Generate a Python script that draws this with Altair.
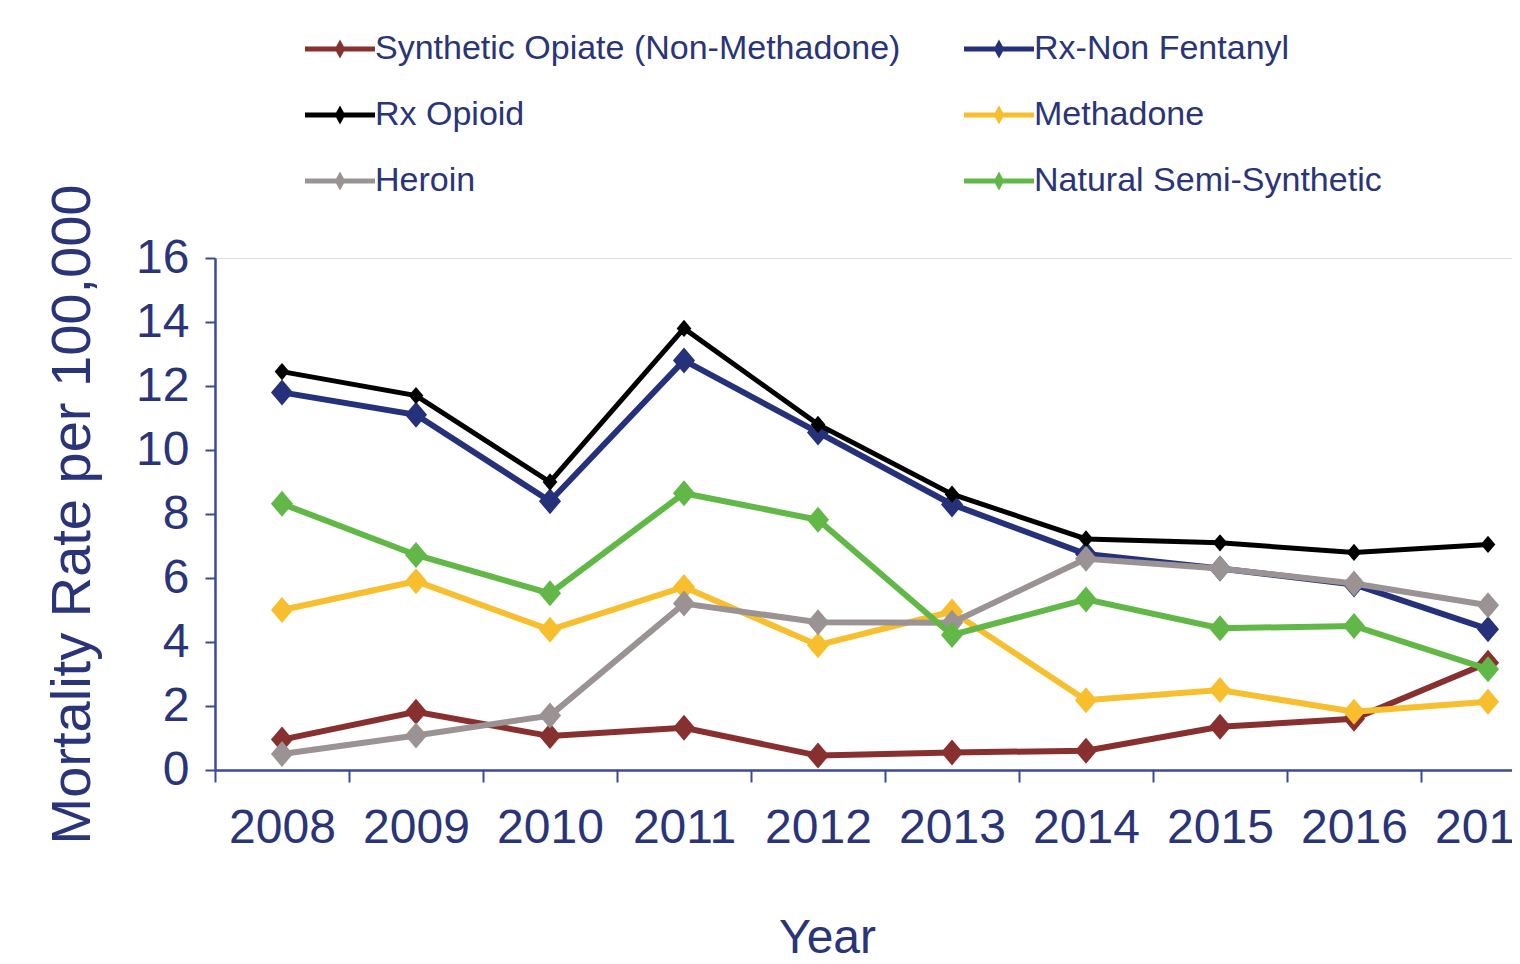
import altair as alt
import pandas as pd

years = [2008, 2009, 2010, 2011, 2012, 2013, 2014, 2015, 2016, 2017]
series = [
    "Synthetic Opiate (Non-Methadone)",
    "Rx-Non Fentanyl",
    "Rx Opioid",
    "Methadone",
    "Heroin",
    "Natural Semi-Synthetic",
]
colors = ["#87302F", "#25317A", "#000000", "#F7BE2E", "#9B9293", "#62B846"]

synthetic = [0.95, 1.82, 1.06, 1.32, 0.45, 0.55, 0.6, 1.35, 1.6, 3.35]
rx_non_fentanyl = [11.8, 11.1, 8.4, 12.8, 10.55, 8.3, 6.75, 6.3, 5.8, 4.4]
rx_opioid = [12.45, 11.7, 9.0, 13.8, 10.8, 8.62, 7.22, 7.1, 6.8, 7.05]
methadone = [5.0, 5.9, 4.38, 5.72, 3.9, 4.95, 2.18, 2.5, 1.82, 2.13]
heroin = [0.5, 1.08, 1.7, 5.2, 4.62, 4.6, 6.6, 6.3, 5.83, 5.15]
natural = [8.32, 6.72, 5.52, 8.65, 7.82, 4.22, 5.33, 4.43, 4.5, 3.15]

all_values = [synthetic, rx_non_fentanyl, rx_opioid, methadone, heroin, natural]
marker_sizes = [676, 676, 300, 676, 676, 676]
line_widths = [6, 6, 5, 6, 6, 6]

# legend is laid out column by column: list the entries in that order
legend_order = [0, 2, 4, 1, 3, 5]
legend_domain = [series[i] for i in legend_order]
legend_range = [colors[i] for i in legend_order]

rows = []
for name, vals in zip(series, all_values):
    for yr, v in zip(years, vals):
        rows.append({"Year": yr, "Series": name, "Rate": v})
df = pd.DataFrame(rows)

NAVY = "#2A3479"
AXIS_NAVY = "#3A4A96"
FONT = "Liberation Sans, Arial, sans-serif"
DIAMOND = "M0,-1L0.85,0L0,1L-0.85,0Z"
LEGEND_SYMBOL = "M-1,-0.07L1,-0.07L1,0.07L-1,0.07Z M0,-0.27L0.15,0L0,0.27L-0.15,0Z"

x_enc = alt.X(
    "Year:O",
    scale=alt.Scale(range=[0, 1340], paddingInner=0, paddingOuter=0),
    axis=alt.Axis(
        title="Year",
        labelAngle=0,
        tickBand="extent",
        tickSize=12,
        tickWidth=2,
        tickColor=AXIS_NAVY,
        domainColor=AXIS_NAVY,
        domainWidth=2.5,
        labelFont=FONT,
        labelFontSize=48,
        labelColor=NAVY,
        labelPadding=22,
        titleFont=FONT,
        titleFontSize=48,
        titleFontWeight="normal",
        titleColor=NAVY,
        titlePadding=62,
        titleX=612,
        grid=False,
    ),
)
y_enc = alt.Y(
    "Rate:Q",
    scale=alt.Scale(domain=[0, 16], nice=False),
    axis=alt.Axis(
        title="Mortality Rate per 100,000",
        values=[0, 2, 4, 6, 8, 10, 12, 14, 16],
        tickSize=10,
        tickWidth=2,
        tickColor=AXIS_NAVY,
        domainColor=AXIS_NAVY,
        domainWidth=2.5,
        labelFont=FONT,
        labelFontSize=48,
        labelColor=NAVY,
        labelPadding=16,
        titleFont=FONT,
        titleFontSize=56,
        titleFontWeight="normal",
        titleColor=NAVY,
        titlePadding=34,
        grid=False,
    ),
)

base = alt.Chart(df).encode(x=x_enc, y=y_enc)

legend_layer = base.mark_point(filled=True, size=16, opacity=1).encode(
    color=alt.Color(
        "Series:N",
        scale=alt.Scale(domain=legend_domain, range=legend_range),
        legend=alt.Legend(
            title=None,
            orient="none",
            legendX=90,
            legendY=-244,
            columns=2,
            symbolType=LEGEND_SYMBOL,
            symbolSize=4900,
            symbolStrokeWidth=0,
            symbolOpacity=1,
            labelFont=FONT,
            labelFontSize=34,
            labelColor=NAVY,
            labelOffset=0,
            labelLimit=0,
            columnPadding=63,
            rowPadding=14,
        ),
    )
)

layers = [legend_layer]
for name, col, sz, sw in zip(series, colors, marker_sizes, line_widths):
    sub = base.transform_filter(alt.datum.Series == name)
    layers.append(sub.mark_line(color=col, strokeWidth=sw))
    layers.append(sub.mark_point(shape=DIAMOND, filled=True, color=col, size=sz, opacity=1))

chart = (
    alt.layer(*layers)
    .properties(
        width=1297,
        height=512,
        autosize=alt.AutoSizeParams(type="none"),
        padding={"left": 207, "top": 250, "right": 0, "bottom": 186},
    )
    .configure_view(stroke=None)
    .configure(background="white")
)

chart.save("out.html", embed_options={"renderer": "svg", "actions": False})
